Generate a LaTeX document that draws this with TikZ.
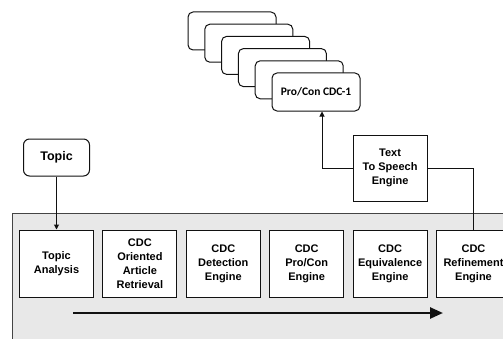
\documentclass[tikz,border=0pt]{standalone}
\usepackage{fontspec}
\setmainfont{Liberation Sans}
\newfontfamily\cardfont{Carlito}
\usetikzlibrary{positioning,arrows.meta,calc}
\definecolor{ink}      {HTML}{111111}
\definecolor{panel}    {HTML}{E8E8E8}
\definecolor{panelrule}{HTML}{444444}
\tikzset{
  engine/.style = {draw=ink, fill=white, line width=1pt,
                   minimum width=74pt, minimum height=67pt, align=center,
                   font=\bfseries\fontsize{11}{14}\selectfont, inner sep=2pt},
  source/.style = {engine, rounded corners=6pt, minimum width=66pt,
                   minimum height=37pt, font=\bfseries\fontsize{12.5}{15}\selectfont},
  card/.style   = {draw=ink, fill=white, line width=1pt, rounded corners=5pt,
                   minimum width=88pt, minimum height=38pt,
                   font=\cardfont\bfseries\fontsize{11.5}{13}\selectfont},
  flow/.style   = {-{Triangle[length=5pt,width=5pt]}, draw=ink, line width=1pt},
  link/.style   = {draw=ink, line width=1pt},
  pipe/.style   = {-{Triangle[length=13pt,width=11pt]}, draw=ink, line width=2.5pt},
}

\begin{document}
\begin{tikzpicture}[x=1pt, y=1pt]
  \useasboundingbox (0,0) rectangle (503,338);
  \clip (0,0) rectangle (503,338);

  % grey panel holding the pipeline
  \draw[fill=panel, draw=panelrule, line width=1pt] (12,125) rectangle (520,-10);

  % pipeline stages
  \node[engine] (analysis) at (56.5,74.5)        {Topic\\Analysis};
  \node[engine] (retrieval) [right=8.4pt of analysis]  {CDC\\Oriented\\Article\\Retrieval};
  \node[engine] (detect)    [right=8.4pt of retrieval] {CDC\\Detection\\Engine};
  \node[engine] (procon)    [right=8.4pt of detect]    {CDC\\Pro/Con\\Engine};
  \node[engine] (equiv)     [right=8.4pt of procon]    {CDC\\Equivalence\\Engine};
  \node[engine] (refine)    [right=8.4pt of equiv]     {CDC\\Refinement\\Engine};

  \coordinate (pipeA) at (73,25);
  \coordinate (pipeB) at (443,25);
  \draw[pipe] (pipeA) -- (pipeB);

  % input and speech output
  \node[source] (topic) [above=53pt of analysis] {Topic};
  \node[engine, minimum height=66pt] (tts) [above=28pt of equiv] {Text\\To Speech\\Engine};

  % stack of output cards, back to front
  \foreach \k in {5,...,1}
    \node[card] (card\k) at ($(316,246)+(-16.8*\k,12.2*\k)$) {};
  \node[card] (front) at (316,246) {Pro/Con CDC-1};

  \draw[flow] (topic) -- (analysis);
  \draw[link] (refine.north) |- (tts.east);
  \coordinate (tap) at ([xshift=6pt]front.south);
  \draw[flow] (tts.west) -| (tap);
\end{tikzpicture}
\end{document}
